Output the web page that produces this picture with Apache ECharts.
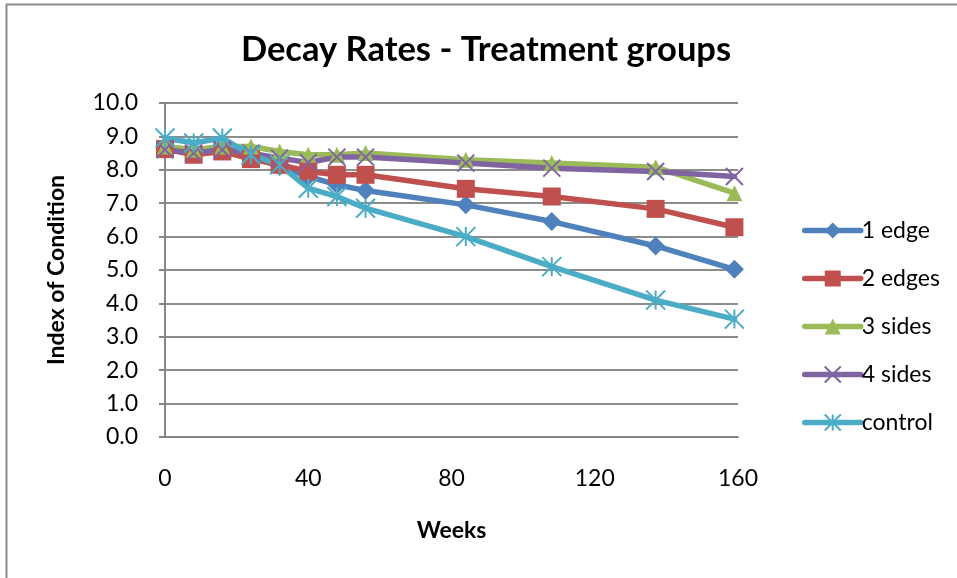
<!DOCTYPE html>
<html>
<head>
<meta charset="utf-8">
<script src="https://cdn.jsdelivr.net/npm/echarts@6/dist/echarts.min.js"></script>
<style>
  html, body { margin: 0; padding: 0; background: #fff; }
  #chart { width: 957px; height: 578px; }
</style>
</head>
<body>
<div id="chart"></div>
<script>
// Weeks since treatment at which condition was scored
const weeks = [0, 8, 16, 24, 32, 40, 48, 56, 84, 108, 137, 159];

// Index of condition per treatment group
const oneEdge   = [8.60, 8.50, 8.60, 8.40, 8.10, 7.80, 7.55, 7.38, 6.95, 6.45, 5.72, 5.02];
const twoEdges  = [8.62, 8.45, 8.55, 8.32, 8.15, 7.95, 7.85, 7.85, 7.43, 7.20, 6.83, 6.28];
const threeSides= [8.70, 8.60, 8.70, 8.70, 8.55, 8.45, 8.45, 8.50, 8.30, 8.20, 8.08, 7.30];
const fourSides = [8.60, 8.50, 8.60, 8.50, 8.35, 8.22, 8.38, 8.38, 8.20, 8.05, 7.95, 7.80];
const control   = [8.95, 8.80, 8.95, 8.45, 8.15, 7.45, 7.20, 6.85, 6.00, 5.10, 4.10, 3.53];

const seriesNames = ['1 edge', '2 edges', '3 sides', '4 sides', 'control'];
const seriesValues = [oneEdge, twoEdges, threeSides, fourSides, control];
const xTicks = [0, 40, 80, 120, 160];

const colors = ['#4F81BD', '#C0504D', '#9BBB59', '#8064A2', '#4BACC6'];
const FONT = 'Lato, "Open Sans", sans-serif';

// Marker shapes: diamond, square, triangle, cross, asterisk
const crossPath = 'path://M0 0L10 10M10 0L0 10';
const starPath = 'path://M5 0L5 10M0 0L10 10M10 0L0 10';
const markers = [
  { symbol: 'diamond', size: 19, stroke: 0 },
  { symbol: 'rect', size: 18, stroke: 0 },
  { symbol: 'triangle', size: 16, stroke: 0 },
  { symbol: crossPath, size: 17, stroke: 2 },
  { symbol: starPath, size: 19, stroke: 2 }
];

const chart = echarts.init(document.getElementById('chart'), null, { renderer: 'canvas' });

const series = seriesNames.map((name, i) => ({
  name: name,
  type: 'line',
  data: weeks.map((w, k) => [w, seriesValues[i][k]]),
  symbol: markers[i].symbol,
  symbolSize: markers[i].size,
  showAllSymbol: true,
  lineStyle: { color: colors[i], width: 5.5, cap: 'round', join: 'round' },
  itemStyle: {
    color: colors[i],
    borderColor: colors[i],
    borderWidth: markers[i].stroke
  },
  emphasis: { disabled: true },
  animation: false
}));

chart.setOption({
  animation: false,
  backgroundColor: '#ffffff',
  textStyle: { fontFamily: FONT },
  graphic: [{
    type: 'rect',
    shape: { x: 6.5, y: 4.5, width: 1000, height: 700 },
    style: { fill: null, stroke: '#8a8a8a', lineWidth: 2 },
    silent: true
  }],
  title: {
    text: 'Decay Rates - Treatment groups',
    left: 481,
    top: 27,
    textAlign: 'center',
    textStyle: { fontFamily: FONT, fontSize: 34.5, fontWeight: 'bold', color: '#000' }
  },
  grid: { left: 165, right: 219, top: 103, bottom: 141, containLabel: false },
  legend: {
    orient: 'vertical',
    left: 797,
    top: 214,
    itemWidth: 56,
    itemHeight: 20,
    itemGap: 25,
    data: seriesNames,
    lineStyle: { width: 5.5, cap: 'round' },
    textStyle: { fontFamily: FONT, fontSize: 23, color: '#000', padding: [0, 0, 0, -4] }
  },
  xAxis: {
    type: 'value',
    min: 0,
    max: 160,
    interval: 40,
    name: 'Weeks',
    nameLocation: 'middle',
    nameGap: 82,
    nameTextStyle: { fontFamily: FONT, fontSize: 23, fontWeight: 'bold', color: '#000', verticalAlign: 'top' },
    axisLine: { show: true, lineStyle: { color: '#868686', width: 2 } },
    axisTick: { show: false },
    splitLine: { show: false },
    axisLabel: {
      margin: 30,
      fontFamily: FONT,
      fontSize: 23,
      color: '#000',
      customValues: xTicks
    }
  },
  yAxis: {
    type: 'value',
    min: 0,
    max: 10,
    interval: 1,
    name: 'Index of Condition',
    nameLocation: 'middle',
    nameGap: 97,
    nameRotate: 90,
    nameTextStyle: { fontFamily: FONT, fontSize: 23, fontWeight: 'bold', color: '#000' },
    axisLine: { show: true, lineStyle: { color: '#868686', width: 2 } },
    axisTick: { show: true, inside: false, length: 6, lineStyle: { color: '#868686', width: 2 } },
    splitLine: { show: true, lineStyle: { color: '#8c8c8c', width: 2 } },
    axisLabel: {
      margin: 27,
      fontFamily: FONT,
      fontSize: 23,
      color: '#000',
      formatter: v => v.toFixed(1)
    }
  },
  series: series
});
</script>
</body>
</html>
